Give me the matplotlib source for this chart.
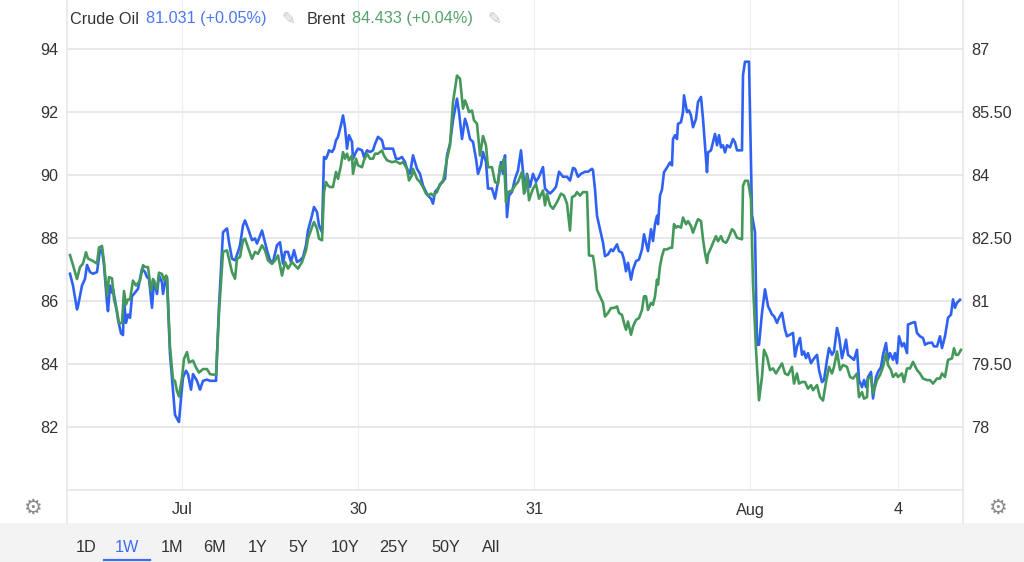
import matplotlib
matplotlib.use('Agg')
import matplotlib.pyplot as plt
from matplotlib.lines import Line2D
from matplotlib.patches import Rectangle

plt.rcParams['font.family'] = ['Liberation Sans', 'DejaVu Sans']

# (bar index, price) -- Crude Oil is read on the right axis, Brent on the left
crude_pts = [(3,81.65),(6,81.37),(10,80.80),(11,80.88),(15,81.37),(18,81.53),(20,81.86),(23,81.69),(26,81.65),(30,81.69),
    (33,82.22),(35,82.22),(37,81.86),(40,80.96),(41,80.76),(43,81.37),(45,81.20),(46,81.29),(49,80.88),(51,80.56),
    (54,80.23),(56,80.19),(57,81.04),(59,80.48),(61,80.68),(63,80.60),(65,81.12),(67,81.17),(71,81.29),(75,81.77),
    (78,81.69),(80,81.57),(82,81.53),(85,80.84),(87,81.49),(90,81.17),(92,81.61),(95,81.44),(96,81.17),(99,81.57),
    (100,81.53),(103,79.74),(106,78.86),(108,78.29),(110,78.20),(112,78.12),(114,78.69),(116,79.18),(119,79.34),(121,79.26),
    (124,78.89),(126,79.26),(128,79.18),(130,79.10),(133,78.89),(136,79.10),(140,79.13),(143,79.10),(149,79.10),(152,80.88),
    (156,82.64),(160,82.73),(162,82.40),(165,82.01),(168,81.97),(171,82.17),(173,82.33),(176,82.80),(178,82.92),(181,82.73),
    (185,82.45),(188,82.49),(190,82.37),(193,82.56),(195,82.68),(197,82.49),(200,82.21),(203,81.97),(206,81.93),(210,82.33),
    (213,82.40),(216,81.89),(218,82.17),(221,82.17),(224,81.93),(227,82.21),(230,81.93),(233,81.97),(236,82.05),(239,82.33),
    (241,82.68),(245,83.04),(247,83.24),(250,83.12),(252,82.80),(255,82.64),(257,84.43),(259,84.39),(261,84.51),(262,84.59),
    (265,84.55),(267,84.63),(269,84.83),(271,84.91),(274,85.19),(276,85.42),(278,85.14),(280,84.63),(282,84.95),(285,84.79),
    (286,84.39),(289,84.55),(291,84.63),(295,84.59),(297,84.43),(300,84.59),(303,84.55),(306,84.59),(308,84.74),(311,84.91),
    (315,84.83),(317,84.63),(320,84.63),(326,84.63),(329,84.39),(332,84.39),(335,84.43),(338,84.31),(340,84.15),(343,84.03),
    (346,84.47),(350,84.15),(353,84.03),(356,83.75),(359,83.60),(361,83.51),(364,83.44),(366,83.32),(368,83.60),(371,83.68),
    (375,83.84),(378,83.91),(380,84.47),(383,84.75),(386,85.31),(390,85.82),(392,85.50),(395,84.86),(398,85.34),(400,85.19),
    (403,84.86),(406,84.79),(409,84.39),(411,84.03),(414,84.23),(416,84.55),(419,84.31),(421,83.68),(425,83.68),(428,83.44),
    (431,83.84),(434,84.31),(436,84.03),(438,84.47),(440,83.00),(442,83.51),(445,83.60),(448,83.91),(451,84.11),(454,84.59),
    (456,84.08),(458,83.60),(460,84.03),(463,83.72),(466,84.03),(469,83.84),(472,83.96),(476,84.19),(478,83.68),(480,83.63),
    (483,83.56),(486,83.63),(489,83.72),(492,84.08),(496,83.96),(500,83.96),(503,83.87),(506,84.17),(508,84.15),(511,83.96),
    (514,84.03),(518,84.08),(521,84.08),(525,84.15),(526,84.11),(528,83.66),(530,83.03),(533,82.71),(536,82.39),(538,82.07),
    (541,82.11),(544,82.23),(546,82.19),(550,82.35),(552,82.19),(555,82.15),(557,81.99),(559,81.71),(561,81.91),(564,81.51),
    (566,81.75),(569,81.95),(572,81.99),(575,82.23),(577,82.59),(579,82.39),(581,82.19),(584,82.71),(586,82.43),(588,82.83),
    (590,83.03),(591,82.83),(593,83.51),(595,83.66),(597,84.07),(600,84.18),(603,84.30),(605,84.23),(606,84.86),(608,84.95),
    (610,84.86),(611,85.22),(614,85.26),(616,85.50),(617,85.90),(620,85.50),(622,85.54),(624,85.42),(626,85.14),(629,85.34),
    (631,85.74),(634,85.86),(636,85.34),(638,84.71),(640,84.07),(641,84.54),(644,84.59),(646,84.78),(648,84.98),(650,84.71),
    (652,84.95),(654,84.66),(656,84.71),(658,84.54),(660,84.71),(663,84.66),(666,84.86),(668,84.78),(670,84.59),(675,84.59),
    (676,86.38),(678,86.70),(682,86.70),(685,83.05),(688,82.64),(690,79.96),(692,79.96),(695,80.72),(698,81.28),(701,80.88),
    (705,80.68),(707,80.64),(710,80.48),(712,80.60),(715,80.72),(718,80.32),(720,80.16),(723,80.20),(726,80.24),(728,79.68),
    (730,79.92),(733,80.12),(735,79.72),(737,79.80),(739,79.64),(741,79.76),(744,79.52),(746,79.60),(750,79.72),(752,79.36),
    (755,79.07),(757,79.12),(760,79.60),(762,79.88),(765,79.72),(767,79.80),(770,80.36),(772,80.16),(775,79.64),(777,79.84),
    (779,80.08),(781,79.72),(785,79.64),(787,79.60),(790,79.84),(792,79.12),(795,78.95),(797,79.12),(799,78.95),(801,79.19),
    (804,79.31),(806,78.68),(809,79.19),(811,79.31),(814,79.43),(816,79.72),(819,80.00),(821,79.60),(823,79.76),(826,79.60),
    (828,79.76),(830,79.52),(832,80.16),(835,79.92),(837,80.00),(840,79.76),(841,80.44),(845,80.48),(848,80.50),(850,80.24),
    (853,80.16),(856,80.12),(858,79.96),(861,80.00),(865,80.01),(867,79.92),(870,79.92),(873,80.16),(875,79.88),(878,80.16),
    (881,80.60),(884,80.68),(886,81.04),(888,80.84),(890,80.96),(893,81.03)]

brent_pts = [(3,87.46),(6,87.14),(10,86.70),(13,87.08),(16,87.19),(19,87.55),(21,87.35),(26,87.27),(30,87.19),(32,87.70),
    (35,87.75),(37,87.24),(40,86.16),(42,86.76),(45,86.72),(47,86.05),(50,85.68),(52,85.30),(55,85.30),(57,86.32),
    (59,85.89),(61,86.05),(63,86.05),(66,86.65),(69,86.49),(73,86.65),(76,87.14),(78,87.08),(81,87.08),(84,86.32),
    (86,86.70),(90,86.38),(92,86.90),(95,86.86),(97,86.65),(99,86.81),(100,86.76),(103,84.54),(106,83.51),(108,83.46),
    (110,83.14),(112,82.97),(115,83.57),(117,84.16),(120,84.38),(122,84.05),(126,84.11),(129,83.89),(132,83.73),(136,83.84),
    (140,83.84),(143,83.68),(149,83.65),(152,85.62),(156,87.56),(160,87.61),(162,87.34),(165,86.92),(168,86.71),(170,87.34),
    (173,87.40),(176,87.93),(178,87.98),(181,87.71),(185,87.34),(188,87.56),(191,87.50),(195,87.77),(198,87.61),(201,87.29),
    (205,87.18),(208,87.29),(211,87.45),(215,86.81),(218,87.24),(221,87.03),(225,87.24),(228,87.13),(231,87.03),(235,87.24),
    (239,87.61),(241,87.98),(245,88.35),(247,88.51),(250,88.30),(252,87.98),(255,87.93),(257,89.46),(259,89.78),(261,89.67),
    (263,89.62),(266,89.62),(269,90.10),(271,89.88),(274,90.31),(276,90.73),(278,90.52),(280,90.68),(282,90.47),(285,90.62),
    (286,90.04),(289,90.52),(291,90.31),(295,90.25),(297,90.47),(300,90.68),(303,90.52),(306,90.52),(308,90.68),(311,90.68),
    (315,90.78),(317,90.62),(320,90.47),(325,90.41),(329,90.44),(333,90.36),(336,90.41),(340,90.20),(342,89.83),(345,89.99),
    (346,90.20),(350,89.88),(353,89.78),(356,89.62),(359,89.41),(361,89.35),(364,89.41),(366,89.35),(370,89.46),(373,89.72),
    (376,89.78),(380,90.52),(383,90.94),(386,92.32),(390,93.16),(393,93.06),(396,92.11),(398,92.37),(400,92.21),(402,92.00),
    (405,92.05),(407,91.74),(410,91.63),(413,90.62),(416,91.24),(419,90.94),(421,90.25),(425,90.25),(428,89.78),(431,89.72),
    (433,90.31),(435,90.20),(437,90.52),(439,89.14),(441,89.46),(445,89.51),(448,89.67),(451,89.78),(455,90.10),(457,89.41),
    (460,89.99),(462,89.20),(466,89.57),(469,89.72),(472,89.25),(476,89.51),(478,89.04),(480,89.41),(483,89.04),(486,88.93),
    (490,89.14),(494,89.41),(497,89.35),(500,89.09),(503,88.24),(505,89.30),(508,89.35),(510,89.46),(513,89.35),(516,89.46),
    (520,89.46),(522,87.45),(526,87.43),(528,87.00),(530,86.36),(533,86.15),(536,85.94),(538,85.51),(541,85.62),(544,85.78),
    (547,85.78),(550,85.83),(552,85.62),(555,85.56),(557,85.30),(559,85.09),(561,85.35),(564,84.93),(566,85.19),(569,85.40),
    (572,85.46),(575,85.72),(577,86.15),(579,86.15),(581,85.72),(584,85.94),(586,85.88),(588,86.15),(590,86.68),(591,86.52),
    (593,87.11),(595,87.43),(597,87.64),(600,87.64),(603,87.69),(605,87.69),(607,88.44),(609,88.33),(611,88.38),(614,88.33),
    (616,88.65),(619,88.44),(621,88.54),(624,88.38),(626,88.17),(629,88.44),(631,88.60),(634,88.54),(636,87.96),(638,87.53),
    (640,87.21),(641,87.48),(644,87.69),(646,87.85),(649,88.06),(651,87.90),(654,88.06),(656,87.90),(659,87.85),(661,87.96),
    (665,88.28),(667,88.22),(670,88.01),(675,87.96),(676,89.66),(678,89.82),(681,89.82),(684,89.23),(686,86.57),(689,84.45),
    (692,82.85),(695,83.60),(697,84.45),(700,84.23),(703,83.81),(706,83.86),(709,83.70),(711,83.81),(715,84.02),(718,83.70),
    (721,83.65),(725,83.91),(727,83.38),(730,83.70),(732,83.38),(735,83.43),(738,83.43),(741,83.22),(744,83.33),(746,83.17),
    (750,83.33),(753,82.95),(756,82.84),(759,83.43),(762,83.91),(765,83.70),(767,83.91),(770,84.40),(773,83.81),(776,83.97),
    (780,83.91),(783,83.59),(786,83.54),(790,83.70),(792,82.95),(795,83.11),(797,82.90),(800,82.95),(801,83.54),(804,83.59),
    (806,83.06),(810,83.49),(813,83.65),(816,83.91),(819,84.34),(821,83.97),(824,83.81),(826,83.59),(829,83.70),(831,83.59),
    (835,83.70),(837,83.43),(840,83.86),(843,83.86),(846,84.07),(850,83.81),(853,83.70),(856,83.54),(860,83.49),(863,83.49),
    (866,83.38),(870,83.54),(873,83.54),(875,83.70),(878,83.59),(881,84.13),(885,84.18),(887,84.50),(889,84.29),(891,84.29),
    (894,84.45)]

t_crude, crude = zip(*crude_pts)
t_brent, brent = zip(*brent_pts)

xtick_pos = [115, 291, 467, 683, 831]
xtick_lab = ['Jul', '30', '31', 'Aug', '4']
left_ticks = [82, 84, 86, 88, 90, 92, 94]
right_ticks = [78, 79.5, 81, 82.5, 84, 85.5, 87]
right_lab = ['78', '79.50', '81', '82.50', '84', '85.50', '87']
ranges = ['1D', '1W', '1M', '6M', '1Y', '5Y', '10Y', '25Y', '50Y', 'All']
range_x = [86, 127, 172, 215, 258, 298, 345, 394, 446, 491]

W, H = 1024, 562
blue = '#2f62f2'
green = '#45985b'
txt = '#333333'
fs = 11.7

fig = plt.figure(figsize=(W/100, H/100), dpi=100)
ax_c = fig.add_axes([67/W, 72/H, 896/W, 490/H])
ax_b = ax_c.twinx()

ax_c.plot(t_crude, crude, color=blue, lw=1.9, solid_joinstyle='round')
ax_b.plot(t_brent, brent, color=green, lw=1.9, solid_joinstyle='round')

ax_c.set_xlim(0, 896)
ax_b.set_ylim(80.0, 95.56)
ax_c.set_ylim(76.5, 88.17)

ax_c.yaxis.tick_right()
ax_b.yaxis.tick_left()
ax_c.set_yticks(right_ticks, right_lab)
ax_b.set_yticks(left_ticks, [str(v) for v in left_ticks])
ax_c.set_xticks(xtick_pos, xtick_lab)

ax_c.tick_params(axis='y', length=0, pad=6, labelsize=fs, labelcolor=txt)
ax_b.tick_params(axis='y', length=0, pad=6, labelsize=fs, labelcolor=txt)
ax_c.tick_params(axis='x', length=0, pad=9, labelsize=fs, labelcolor=txt)

ax_c.set_axisbelow(True)
ax_c.yaxis.grid(True, color='#e6e6e6', lw=1.3)
ax_c.xaxis.grid(True, color='#eef0f3', lw=1.0)

for s in ax_b.spines.values():
    s.set_visible(False)
ax_c.spines['top'].set_visible(False)
for k in ['left', 'right', 'bottom']:
    ax_c.spines[k].set_color('#e4e4e4')
    ax_c.spines[k].set_linewidth(1.1)

# x-axis band frame and range selector strip
fig.add_artist(Rectangle((0, 0), 1, 39/H, transform=fig.transFigure,
                         facecolor='#f3f3f3', edgecolor='none', zorder=0))
for xp in [67, 963]:
    fig.add_artist(Line2D([xp/W, xp/W], [39/H, 72/H], transform=fig.transFigure,
                          color='#e4e4e4', lw=1.1))

for xg in [32, 997]:
    fig.text(xg/W, 1 - 508/H, '\u2699', ha='center', va='center', fontsize=15,
             color='#8a8a8a', family='DejaVu Sans')

for lab, xr in zip(ranges, range_x):
    fig.text(xr/W, 1 - 547/H, lab, ha='center', va='center', fontsize=fs,
             color='#3d6cf3' if lab == '1W' else txt)
fig.add_artist(Line2D([104/W, 150/W], [2.5/H, 2.5/H], transform=fig.transFigure,
                      color='#3d6cf3', lw=1.6))

# legend header
ly = 1 - 19/H
fig.text(70/W, ly, 'Crude Oil', ha='left', va='center', fontsize=fs, color=txt)
fig.text(146/W, ly, '81.031 (+0.05%)', ha='left', va='center', fontsize=fs, color='#4a78f5')
fig.text(282/W, ly, '\u270e', ha='left', va='center', fontsize=12, color='#c4c4c4', family='DejaVu Sans')
fig.text(307/W, ly, 'Brent', ha='left', va='center', fontsize=fs, color=txt)
fig.text(352/W, ly, '84.433 (+0.04%)', ha='left', va='center', fontsize=fs, color='#55a26a')
fig.text(488/W, ly, '\u270e', ha='left', va='center', fontsize=12, color='#c4c4c4', family='DejaVu Sans')

fig.savefig('out.png', dpi=100)
